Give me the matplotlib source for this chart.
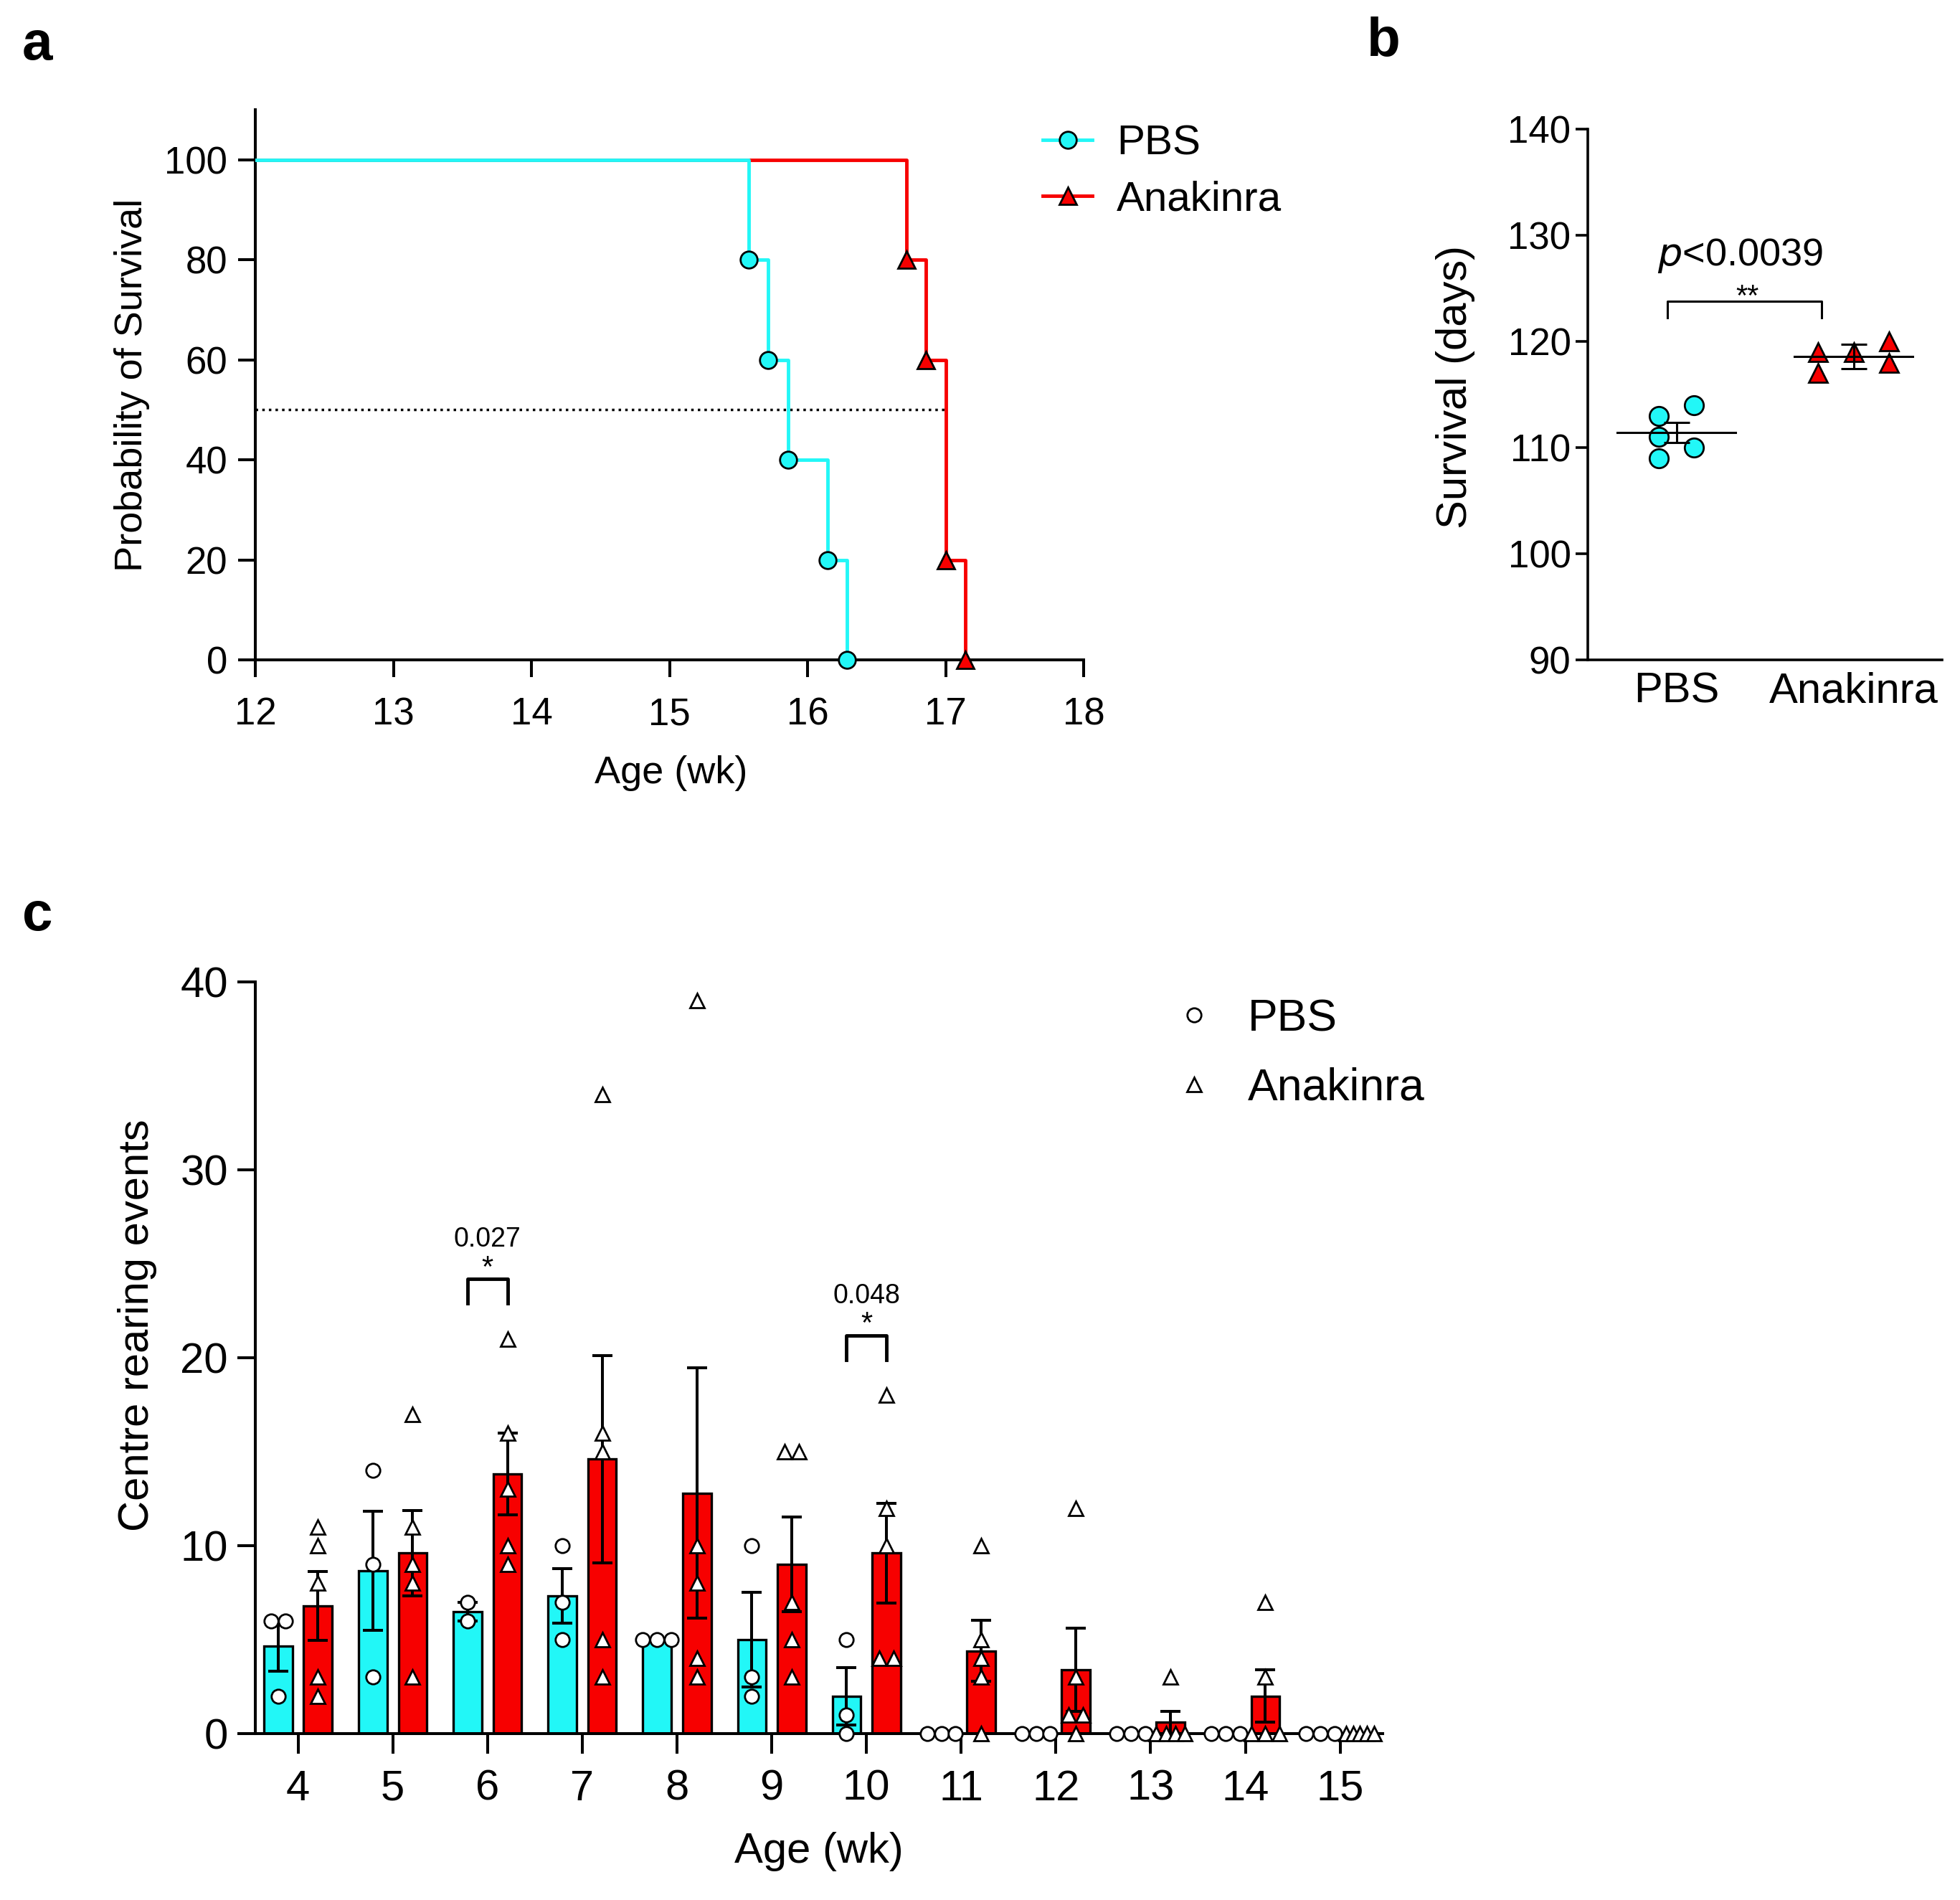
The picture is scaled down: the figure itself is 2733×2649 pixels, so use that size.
import matplotlib
matplotlib.use('Agg')
import matplotlib.pyplot as plt
import numpy as np
from matplotlib.lines import Line2D

plt.rcParams['font.family'] = ['Liberation Sans', 'DejaVu Sans']

CYAN = '#22F7F7'
RED = '#F70000'

# survival (days) per mouse, panel b; panel a uses the same mice in weeks
pbs_days = [113, 114, 111, 109, 110]
ana_days = [119, 117, 119, 120, 118]
b_groups = ['PBS', 'Anakinra']
b_err = [0.93, 1.14]
b_p_text = r'$\it{p}$<0.0039'
b_stars = '**'

# centre rearing events per mouse, panel c
weeks = [4, 5, 6, 7, 8, 9, 10, 11, 12, 13, 14, 15]
pbs_c = [[6, 6, 2], [14, 9, 3], [7, 6], [10, 7, 5], [5, 5, 5], [10, 3, 2],
         [5, 1, 0], [0, 0, 0], [0, 0, 0], [0, 0, 0], [0, 0, 0], [0, 0, 0]]
ana_c = [[11, 10, 8, 3, 2], [17, 11, 9, 8, 3], [21, 16, 13, 10, 9],
         [34, 16, 15, 5, 3], [39, 10, 8, 4, 3], [15, 15, 7, 5, 3],
         [18, 12, 10, 4, 4], [10, 5, 4, 3, 0], [12, 3, 1, 1, 0],
         [3, 0, 0, 0, 0], [7, 3, 0, 0, 0], [0, 0, 0, 0, 0]]
sig_weeks = [6, 10]
sig_p = ['0.027', '0.048']


def km_steps(days):
    t = np.sort(np.asarray(days) / 7.0)
    n = len(t)
    xs, ys = [0.0], [100.0]
    mx, my = [], []
    s = 100.0
    for ut in np.unique(t):
        s_new = 100.0 * np.sum(t > ut) / n
        xs += [ut, ut]
        ys += [s, s_new]
        mx.append(ut)
        my.append(s_new)
        s = s_new
    return xs, ys, mx, my


def km_median(days):
    t = np.sort(np.asarray(days) / 7.0)
    n = len(t)
    for ut in np.unique(t):
        if np.sum(t > ut) / n <= 0.5:
            return ut


def column_layout(values, step, overlap):
    # fewest columns where points in one column do not overlap
    for ncol in range(1, len(values) + 1):
        cols = sorted([(j - (ncol - 1) / 2) * step for j in range(ncol)], key=lambda c: (-abs(c), c))
        placed = []
        ok = True
        for v in sorted(values):
            for c in cols:
                if all(abs(v - pv) >= overlap for pv, pc in placed if pc == c):
                    placed.append((v, c))
                    break
            else:
                ok = False
                break
        if ok:
            return placed


def spread_equal(values, width=0.30, max_step=0.15):
    offs, ys = [], []
    vals = np.asarray(values)
    for v in np.unique(vals):
        n = int(np.sum(vals == v))
        step = min(max_step, width / (n - 1)) if n > 1 else 0
        offs += list((np.arange(n) - (n - 1) / 2) * step)
        ys += [v] * n
    return np.array(offs), np.array(ys)


def style_axis(ax, lw=2.9):
    for side in ['top', 'right']:
        ax.spines[side].set_visible(False)
    for side in ['left', 'bottom']:
        ax.spines[side].set_linewidth(lw)


fig = plt.figure(figsize=(27.33, 26.49), dpi=100)

# ---------------- panel a ----------------
ax_a = fig.add_axes([0.1303, 0.6527, 0.4226, 0.2895])
style_axis(ax_a)
for days, col, mk, lab in [(ana_days, RED, '^', 'Anakinra'), (pbs_days, CYAN, 'o', 'PBS')]:
    xs, ys, mx, my = km_steps(days)
    ax_a.plot(xs, ys, color=col, lw=3.5, zorder=3)
    ax_a.plot(mx, my, ls='none', marker=mk, ms=17, mfc=col, mec='black', mew=2, clip_on=False, zorder=5)
med_x = max(km_median(pbs_days), km_median(ana_days))
ax_a.plot([12, med_x], [50, 50], color='black', ls=':', lw=2.5, zorder=2)
ax_a.set_xlim(12, 18)
ax_a.set_ylim(0, 110)
ax_a.set_xticks(range(12, 19))
ax_a.set_yticks(range(0, 101, 20))
ax_a.tick_params(axis='both', direction='out', length=17, width=2.9, labelsize=38)
ax_a.tick_params(axis='x', pad=20)
ax_a.tick_params(axis='y', pad=11)
ax_a.set_ylabel('Probability of Survival', fontsize=39)
ax_a.yaxis.set_label_coords(-0.1275, 0.5)
ax_a.set_xlabel('Age (wk)', fontsize=39)
ax_a.xaxis.set_label_coords(0.502, -0.173)
leg_a = [Line2D([], [], color=CYAN, lw=3.5, marker='o', ms=17, mfc=CYAN, mec='black', mew=2),
         Line2D([], [], color=RED, lw=3.5, marker='^', ms=17, mfc=RED, mec='black', mew=2)]
ax_a.legend(leg_a, ['PBS', 'Anakinra'], loc='upper left', bbox_to_anchor=(0.951, 0.973),
            frameon=False, fontsize=42, handlelength=1.17, handletextpad=0.59,
            labelspacing=0.41, borderpad=0, borderaxespad=0, numpoints=1)

# ---------------- panel b ----------------
ax_b = fig.add_axes([0.8101, 0.6527, 0.1808, 0.2794])
style_axis(ax_b, lw=2.6)
for i, (days, col, mk) in enumerate([(pbs_days, CYAN, 'o'), (ana_days, RED, '^')]):
    layout = column_layout(days, step=0.2, overlap=1.5)
    ax_b.plot([i + c for v, c in layout], [v for v, c in layout], ls='none', marker=mk, ms=19,
              mfc=col, mec='black', mew=2, zorder=3)
    m = np.mean(days)
    ax_b.plot([i - 0.334, i + 0.334], [m, m], color='black', lw=2.2, zorder=4)
    ax_b.errorbar(i, m, yerr=b_err[i], color='black', lw=2.2, capsize=13, capthick=2.2, zorder=4)
top_b = max(max(pbs_days), max(ana_days)) + 3.8
ax_b.plot([-0.05, -0.05, 0.82, 0.82], [top_b - 1.6, top_b, top_b, top_b - 1.6], color='black', lw=2.2)
ax_b.text(0.40, top_b + 0.3, b_stars, ha='center', va='center', fontsize=30)
ax_b.text(0.36, top_b + 4.3, b_p_text, ha='center', va='center', fontsize=39)
ax_b.set_xlim(-0.5, 1.5)
ax_b.set_ylim(90, 140)
ax_b.set_yticks(range(90, 141, 10))
ax_b.set_xticks([0, 1])
ax_b.set_xticklabels(b_groups)
ax_b.tick_params(axis='y', direction='out', length=12, width=2.6, labelsize=38, pad=5)
ax_b.tick_params(axis='x', length=0, labelsize=43, pad=12)
ax_b.set_ylabel('Survival (days)', fontsize=43)
ax_b.yaxis.set_label_coords(-0.318, 0.514)

# ---------------- panel c ----------------
ax_c = fig.add_axes([0.1303, 0.0876, 0.5752, 0.3956])
style_axis(ax_c)
x = np.array(weeks, dtype=float)
bw = 0.30
shift = 0.21
pbs_mean = [np.mean(v) for v in pbs_c]
ana_mean = [np.mean(v) for v in ana_c]
pbs_sem = [np.std(v, ddof=1) / np.sqrt(len(v)) for v in pbs_c]
ana_sem = [np.std(v, ddof=1) / np.sqrt(len(v)) for v in ana_c]
ax_c.bar(x - shift, pbs_mean, width=bw, color=CYAN, edgecolor='black', linewidth=2.4, zorder=2)
ax_c.bar(x + shift, ana_mean, width=bw, color=RED, edgecolor='black', linewidth=2.4, zorder=2)
ax_c.errorbar(x - shift, pbs_mean, yerr=pbs_sem, fmt='none', ecolor='black', elinewidth=2.9,
              capsize=10, capthick=2.9, zorder=3)
ax_c.errorbar(x + shift, ana_mean, yerr=ana_sem, fmt='none', ecolor='black', elinewidth=2.9,
              capsize=10, capthick=2.9, zorder=3)
for xi, pv, av in zip(x, pbs_c, ana_c):
    o, y = spread_equal(pv)
    ax_c.plot(xi - shift + o, y, ls='none', marker='o', ms=14, mfc='white', mec='black', mew=2,
              clip_on=False, zorder=5)
    o, y = spread_equal(av)
    ax_c.plot(xi + shift + o, y, ls='none', marker='^', ms=14, mfc='white', mec='black', mew=2,
              clip_on=False, zorder=5)
for wk, ptxt in zip(sig_weeks, sig_p):
    k = weeks.index(wk)
    top = max(max(pbs_c[k]), max(ana_c[k]), ana_mean[k] + ana_sem[k]) + 3.2
    ax_c.plot([wk - shift, wk - shift, wk + shift, wk + shift], [top - 1.3, top, top, top - 1.3],
              color='black', lw=3.5)
    ax_c.text(wk, top + 0.55, '*', ha='center', va='center', fontsize=30)
    ax_c.text(wk, top + 2.1, ptxt, ha='center', va='center', fontsize=27)
ax_c.set_xlim(3.55, 15.45)
ax_c.set_ylim(0, 40)
ax_c.set_xticks(weeks)
ax_c.set_yticks(range(0, 41, 10))
ax_c.tick_params(axis='x', direction='out', length=20, width=2.9, labelsize=43, pad=16)
ax_c.tick_params(axis='y', direction='out', length=18, width=2.9, labelsize=43, pad=9.5)
ax_c.set_ylabel('Centre rearing events', fontsize=43)
ax_c.yaxis.set_label_coords(-0.087, 0.543)
ax_c.set_xlabel('Age (wk)', fontsize=43)
ax_c.xaxis.set_label_coords(0.5, -0.131)
leg_c = [Line2D([], [], ls='none', marker='o', ms=14, mfc='white', mec='black', mew=2),
         Line2D([], [], ls='none', marker='^', ms=14, mfc='white', mec='black', mew=2)]
ax_c.legend(leg_c, ['PBS', 'Anakinra'], loc='upper left', bbox_to_anchor=(0.813, 0.979),
            frameon=False, fontsize=45, handlelength=1.0, handletextpad=0.69,
            labelspacing=0.6, borderpad=0, borderaxespad=0, numpoints=1)

# panel letters
fig.text(0.019, 0.976, 'a', fontsize=55, fontweight='bold', ha='center', va='center')
fig.text(0.706, 0.978, 'b', fontsize=55, fontweight='bold', ha='center', va='center')
fig.text(0.019, 0.5176, 'c', fontsize=55, fontweight='bold', ha='center', va='center')

fig.savefig('out.png', dpi=100)
